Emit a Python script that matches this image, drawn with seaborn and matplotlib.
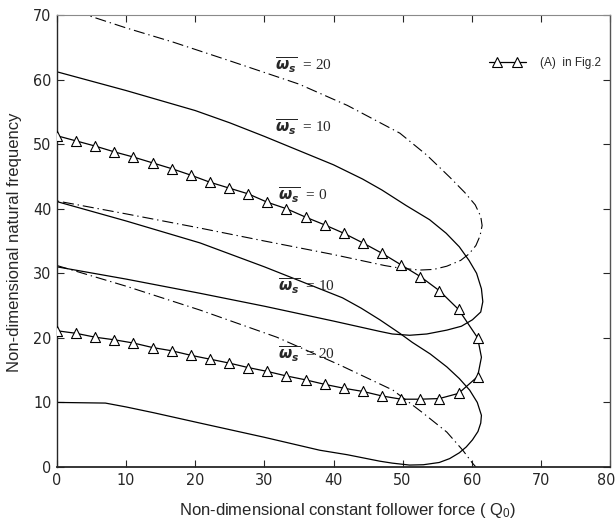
import matplotlib
matplotlib.use("Agg")
import matplotlib.pyplot as plt
import matplotlib.transforms as mtransforms
from matplotlib.lines import Line2D
from matplotlib.legend_handler import HandlerLine2D, HandlerTuple
import seaborn as sns

# ---- data: natural frequency vs follower force ----
# omega_s = 20, upper mode pair (dash-dot), traced as one C-shaped path
q_ws20_hi = [0, 4.3, 10, 16.8, 25, 35, 42, 49.6, 53.5, 56.8, 59.0, 60.5, 61.3, 61.5,
             61.2, 60.6, 59.6, 58.4, 56.4, 54.5, 52.5, 49.6, 47.4, 40, 30, 20.7, 10, 0]
f_ws20_hi = [71.5, 70.0, 68.0, 65.8, 62.9, 59.3, 56.0, 51.7, 48.3, 44.9, 42.5, 40.6, 38.8, 37.4,
             35.8, 34.3, 33.0, 32.0, 31.1, 30.6, 30.5, 30.8, 31.2, 32.9, 35.0, 37.0, 39.2, 41.2]

# omega_s = 10, upper mode pair (solid)
q_ws10_hi = [0, 10, 20, 25, 30, 35, 40, 44.2, 47, 50.5, 53.9, 56.3, 58.2, 59.6, 60.7, 61.4,
             61.6, 61.3, 60.1, 58.5, 56.4, 53.5, 51, 48.5, 46.7, 40, 30, 20.7, 10, 0]
f_ws10_hi = [61.2, 58.3, 55.2, 53.3, 51.2, 49.0, 46.8, 44.6, 42.9, 40.5, 38.3, 36.2, 34.1, 32.0, 30.0, 27.6,
             25.6, 24.0, 22.8, 21.8, 21.2, 20.6, 20.4, 20.6, 21.0, 22.6, 24.9, 26.9, 29.1, 31.0]

# omega_s = 0, reference case (A) in Fig.2 (triangles)
q_ws0 = [0, 2.77, 5.53, 8.3, 11.06, 13.83, 16.6, 19.36, 22.13, 24.89, 27.66, 30.43,
         33.19, 35.96, 38.72, 41.49, 44.26, 47.02, 49.79, 52.55, 55.32, 58.09, 60.85]
f_ws0_upper = [51.3, 50.5, 49.7, 48.8, 48.0, 47.1, 46.2, 45.2, 44.1, 43.2, 42.3, 41.0,
               40.0, 38.7, 37.5, 36.2, 34.7, 33.1, 31.3, 29.5, 27.3, 24.4, 20.0]
f_ws0_lower = [21.1, 20.7, 20.1, 19.7, 19.2, 18.5, 18.0, 17.3, 16.7, 16.1, 15.4, 14.8,
               14.1, 13.5, 12.8, 12.2, 11.7, 11.0, 10.5, 10.5, 10.6, 11.4, 14.0]
q_ws0_tip, f_ws0_tip = 61.4, 17.0

# omega_s = 10, lower mode pair (solid)
q_ws10_lo = [0, 10, 20.7, 30, 36.6, 41.3, 44, 46.7, 49.6, 51.4, 54, 56.4, 58.2, 59.7, 60.8, 61.4,
             61.3, 60.9, 60.1, 59.2, 58.2, 56.8, 55.3, 53, 51, 48.5, 46.7, 42, 38, 30, 20.7, 14, 10, 7, 0]
f_ws10_lo = [41.1, 38.1, 34.7, 31.0, 28.2, 26.2, 24.6, 22.8, 20.7, 19.3, 17.5, 15.5, 13.7, 11.9, 10.0, 8.0,
             6.8, 5.5, 4.2, 3.1, 2.2, 1.3, 0.7, 0.35, 0.3, 0.6, 0.9, 1.9, 2.6, 4.6, 6.8, 8.4, 9.3, 9.9, 10.0]

# omega_s = 20, lower mode (dash-dot)
q_ws20_lo = [0, 10, 20.7, 31.8, 40.9, 48.6, 52.9, 56.4, 58.7, 60.1, 60.6]
f_ws20_lo = [31.2, 28.0, 24.3, 20.1, 15.8, 11.9, 8.4, 5.4, 2.6, 0.6, 0.0]

x_ticks = [0, 10, 20, 30, 40, 50, 60, 70, 80]
y_ticks = [0, 10, 20, 30, 40, 50, 60, 70]

# curve labels: (value of omega_s, x, y)
curve_labels = [
    ("20", 31.6, 62.3),
    ("10", 31.6, 52.7),
    ("0", 32.0, 42.1),
    ("10", 32.0, 28.0),
    ("20", 32.0, 17.5),
]

# ---- style ----
sns.set_style("ticks")
plt.rcParams["mathtext.fontset"] = "dejavusans"
label_family = ["Liberation Sans", "DejaVu Sans"]

fig = plt.figure(figsize=(6.16, 5.24), dpi=100)
ax = fig.add_axes([57 / 616, 1 - 467 / 524, 553 / 616, 452 / 524])

lw = 0.9
dashdot = (0, (10, 3.5, 1.2, 3.5))

sns.lineplot(x=q_ws20_hi, y=f_ws20_hi, sort=False, estimator=None, color="k",
             lw=0.8, linestyle=dashdot, ax=ax)
sns.lineplot(x=q_ws10_hi, y=f_ws10_hi, sort=False, estimator=None, color="k", lw=lw, ax=ax)
sns.lineplot(x=q_ws10_lo, y=f_ws10_lo, sort=False, estimator=None, color="k", lw=lw, ax=ax)
sns.lineplot(x=q_ws20_lo, y=f_ws20_lo, sort=False, estimator=None, color="k",
             lw=0.8, linestyle=dashdot, ax=ax)

# omega_s = 0 loop: upper branch, rounded tip, lower branch back to Q0 = 0
q_path = q_ws0 + [q_ws0_tip] + q_ws0[::-1]
f_path = f_ws0_upper + [f_ws0_tip] + f_ws0_lower[::-1]
sns.lineplot(x=q_path, y=f_path, sort=False, estimator=None, color="k", lw=lw, ax=ax)
sns.scatterplot(x=q_ws0 + q_ws0, y=f_ws0_upper + f_ws0_lower, marker="^", s=52,
                color="white", edgecolor="black", linewidth=0.8, zorder=4, ax=ax)

for val, xx, yy in curve_labels:
    ax.text(xx, yy, r"$\overline{\mathbfit{\omega}_{\mathbfit{s}}}$" + "  = " + val,
            ha="left", va="center", fontsize=11, family="Liberation Serif")

# legend: a line with two triangle markers set in from its ends
leg_line = Line2D([], [], color="k", lw=lw)
leg_mark = Line2D([], [], ls="none", marker="^", ms=7.5, mfc="white", mec="k", mew=0.8)
ax.legend([(leg_line, leg_mark)], ["(A)  in Fig.2"], numpoints=2, frameon=False,
          loc="center left", bbox_to_anchor=(0.762, 0.894), handlelength=3.1,
          handletextpad=1.2, prop={"family": label_family, "size": 8.5},
          handler_map={tuple: HandlerTuple(ndivide=1, pad=0),
                       leg_line: HandlerLine2D(marker_pad=0.0, numpoints=2),
                       leg_mark: HandlerLine2D(marker_pad=0.7, numpoints=2)})

ax.set_xlim(0, 80)
ax.set_ylim(0, 70)
ax.set_xticks(x_ticks)
ax.set_yticks(y_ticks)
ax.tick_params(direction="in", top=True, right=True, length=5, width=0.8, pad=4)
for lab in ax.get_xticklabels() + ax.get_yticklabels():
    lab.set_family("DejaVu Sans")
    lab.set_stretch("condensed")
    lab.set_fontsize(11.5)

# keep the last x tick label inside the figure edge
last_lab = ax.get_xticklabels()[-1]
last_lab.set_transform(last_lab.get_transform()
                       + mtransforms.ScaledTranslation(-3 / 72, 0, fig.dpi_scale_trans))

ax.spines["left"].set_linewidth(1.0)
ax.spines["bottom"].set_linewidth(1.3)
ax.spines["top"].set_linewidth(0.8)
ax.spines["top"].set_color("#8a8a8a")
ax.spines["right"].set_linewidth(1.0)
ax.spines["right"].set_color("#555555")
for s in ax.spines.values():
    s.set_visible(True)

ax.set_xlabel(r"Non-dimensional constant follower force ( $\mathregular{Q_0}$)",
              family=label_family, fontsize=12, va="center")
ax.xaxis.set_label_coords((348 - 57) / 553, (467 - 510) / 452)
ax.set_ylabel("Non-dimensional natural frequency", family=label_family, fontsize=12,
              va="center")
ax.yaxis.set_label_coords((15 - 57) / 553, (467 - 242) / 452)

fig.savefig("out.png", dpi=100)
